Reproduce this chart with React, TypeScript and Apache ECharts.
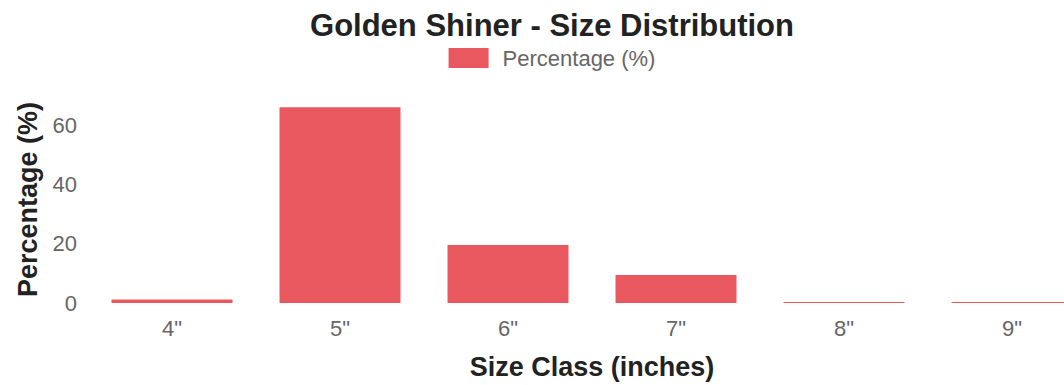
import React, { useEffect, useRef } from "react";
import * as echarts from "echarts";

const categories = ['4"', '5"', '6"', '7"', '8"', '9"'];
const percentages = [1.2, 66.2, 19.6, 9.5, 0.3, 0.3];
const seriesName = "Percentage (%)";
const titleText = "Golden Shiner - Size Distribution";
const xAxisTitle = "Size Class (inches)";
const yAxisTitle = "Percentage (%)";
const yTicks = [0, 20, 40, 60];

const FONT = "'Liberation Sans', Arial, Helvetica, sans-serif";
const BAR_COLOR = "#E9575F";

export default function App() {
  const ref = useRef<HTMLDivElement>(null);

  useEffect(() => {
    if (!ref.current) return;
    const chart = echarts.init(ref.current, null, { renderer: "svg" });
    chart.setOption({
      animation: false,
      backgroundColor: "#ffffff",
      textStyle: { fontFamily: FONT },
      title: {
        text: titleText,
        left: "center",
        top: 5,
        textStyle: { fontFamily: FONT, fontSize: 31, fontWeight: "bold", color: "#222222" },
      },
      legend: {
        data: [seriesName],
        left: "center",
        top: 42,
        itemWidth: 40,
        itemHeight: 20,
        itemGap: 10,
        icon: "rect",
        textStyle: { fontFamily: FONT, fontSize: 22, color: "#666666", padding: [0, 0, 0, 9] },
      },
      grid: { left: 88, right: 8, top: 96, bottom: 79, containLabel: false },
      xAxis: {
        type: "category",
        data: categories,
        name: xAxisTitle,
        nameLocation: "middle",
        nameGap: 50,
        nameTextStyle: { fontFamily: FONT, fontSize: 27, fontWeight: "bold", color: "#222222" },
        axisLine: { show: false },
        axisTick: { show: false },
        axisLabel: { fontFamily: FONT, fontSize: 22, color: "#666666", margin: 14 },
        splitLine: { show: false },
      },
      yAxis: {
        type: "value",
        min: 0,
        max: 70,
        interval: 10,
        name: yAxisTitle,
        nameLocation: "middle",
        nameGap: 45,
        nameTextStyle: { fontFamily: FONT, fontSize: 27, fontWeight: "bold", color: "#222222" },
        axisLine: { show: false },
        axisTick: { show: false },
        splitLine: { show: false },
        axisLabel: {
          fontFamily: FONT,
          fontSize: 22,
          color: "#666666",
          margin: 11,
          formatter: (v: number) => (yTicks.includes(v) ? String(v) : ""),
        },
      },
      series: [
        {
          name: seriesName,
          type: "bar",
          data: percentages,
          barWidth: "72%",
          itemStyle: { color: BAR_COLOR },
        },
      ],
    });
    return () => chart.dispose();
  }, []);

  return (
    <div
      style={{
        position: "fixed",
        left: 0,
        top: 0,
        width: 1064,
        height: 385,
        overflow: "hidden",
        background: "#ffffff",
      }}
    >
      <div ref={ref} style={{ width: 1104, height: 385 }} />
    </div>
  );
}
